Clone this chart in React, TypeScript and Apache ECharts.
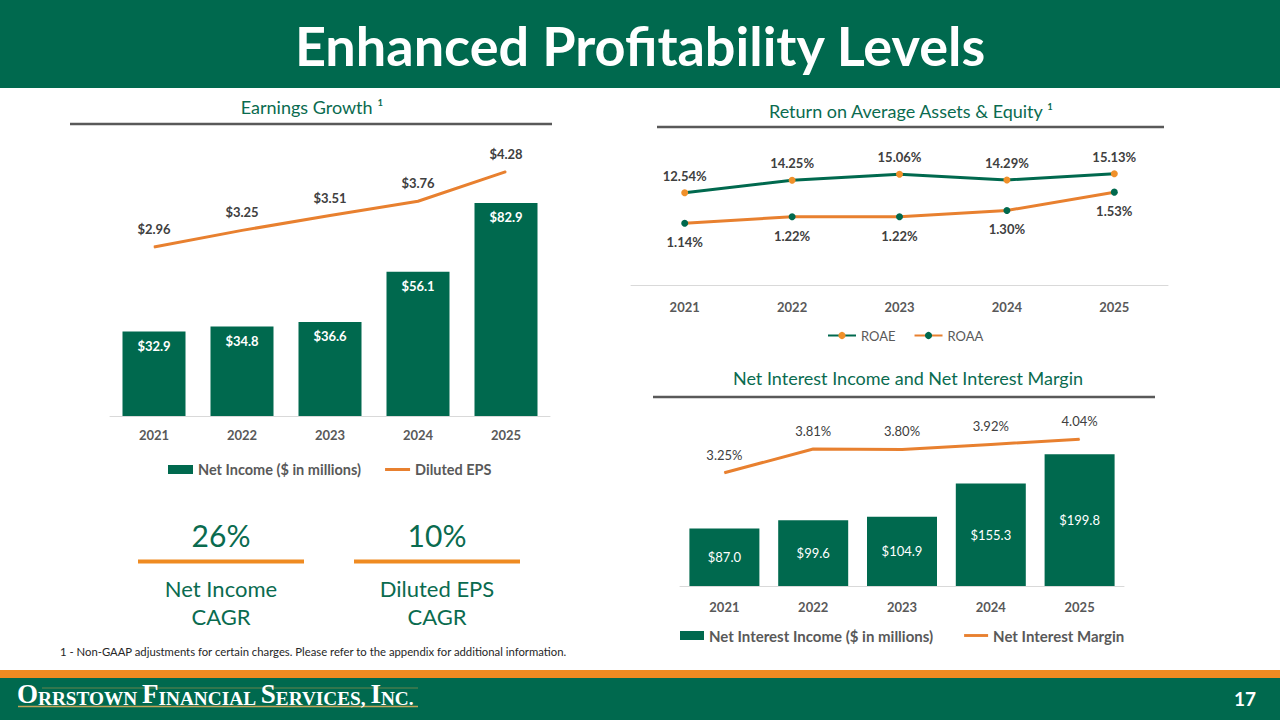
import React, { useEffect, useRef } from 'react';
import * as echarts from 'echarts';

// ---- data ----
const years = ['2021', '2022', '2023', '2024', '2025'];
const netIncome = [32.9, 34.8, 36.6, 56.1, 82.9];
const dilutedEPS = [2.96, 3.25, 3.51, 3.76, 4.28];
const roae = [12.54, 14.25, 15.06, 14.29, 15.13];
const roaa = [1.14, 1.22, 1.22, 1.3, 1.53];
const netInterestIncome = [87.0, 99.6, 104.9, 155.3, 199.8];
const netInterestMargin = [3.25, 3.81, 3.8, 3.92, 4.04];
const cagrValues = ['26%', '10%'];
const cagrLabels = [['Net Income', 'CAGR'], ['Diluted EPS', 'CAGR']];

// ---- styles ----
const GREEN = '#00694E';
const TITLE_GREEN = '#0A6B4F';
const ORANGE_LINE = '#E8802F';
const ORANGE_DOT = '#F0902A';
const ORANGE_BAND = '#EF8B22';
const GRAY = '#595959';
const DARK = '#404040';
const FONT = 'Lato, "Noto Sans", sans-serif';
const SERIF = '"Liberation Serif", "DejaVu Serif", serif';
const LINE_ICON = 'path://M0,0H25V3H0Z';

function xAxisFor(gridIndex: number, margin: number) {
  return {
    type: 'category',
    gridIndex,
    data: years,
    axisLine: { lineStyle: { color: '#D9D9D9', width: 1 } },
    axisTick: { show: false },
    axisLabel: { color: GRAY, fontWeight: 'bold', fontSize: 13, margin, fontFamily: FONT },
  };
}

function buildOption() {
  const graphic: any[] = [
    { type: 'rect', shape: { x: 0, y: 0, width: 1280, height: 88 }, style: { fill: GREEN } },
    {
      type: 'text', x: 640, y: 45,
      style: { text: 'Enhanced Profitability Levels', fill: '#fff', fontSize: 54, fontWeight: 'bold', fontFamily: FONT, align: 'center', verticalAlign: 'middle' },
    },
    // section titles
    { type: 'text', x: 312, y: 107, style: { text: 'Earnings Growth ¹', fill: TITLE_GREEN, fontSize: 18, fontFamily: FONT, align: 'center', verticalAlign: 'middle' } },
    { type: 'line', shape: { x1: 70, y1: 124, x2: 552, y2: 124 }, style: { stroke: GRAY, lineWidth: 2.5 } },
    { type: 'text', x: 911, y: 111, style: { text: 'Return on Average Assets & Equity ¹', fill: TITLE_GREEN, fontSize: 18, fontFamily: FONT, align: 'center', verticalAlign: 'middle' } },
    { type: 'line', shape: { x1: 657, y1: 127, x2: 1164, y2: 127 }, style: { stroke: GRAY, lineWidth: 2.5 } },
    { type: 'text', x: 908, y: 378, style: { text: 'Net Interest Income and Net Interest Margin', fill: TITLE_GREEN, fontSize: 18, fontFamily: FONT, align: 'center', verticalAlign: 'middle' } },
    { type: 'line', shape: { x1: 653, y1: 397, x2: 1155, y2: 397 }, style: { stroke: GRAY, lineWidth: 2.5 } },
    // footnote
    { type: 'text', x: 60, y: 651, style: { text: '1 - Non-GAAP adjustments for certain charges. Please refer to the appendix for additional information.', fill: '#262626', fontSize: 11.3, fontFamily: FONT, align: 'left', verticalAlign: 'middle' } },
    // footer
    { type: 'rect', shape: { x: 0, y: 670, width: 1280, height: 8 }, style: { fill: ORANGE_BAND } },
    { type: 'rect', shape: { x: 0, y: 678, width: 1280, height: 42 }, style: { fill: GREEN } },
    { type: 'line', shape: { x1: 42, y1: 688, x2: 418, y2: 688 }, style: { stroke: '#B99B4E', lineWidth: 1, opacity: 0.55 } },
    { type: 'line', shape: { x1: 18, y1: 706.5, x2: 418, y2: 706.5 }, style: { stroke: '#C4A55A', lineWidth: 1.5 } },
    {
      type: 'text', x: 17, y: 694,
      style: {
        text: '{b|O}{s|RRSTOWN} {b|F}{s|INANCIAL} {b|S}{s|ERVICES,} {b|I}{s|NC.}',
        fill: '#fff', fontSize: 19, fontFamily: SERIF, fontWeight: 'bold', align: 'left', verticalAlign: 'middle',
        rich: {
          b: { fontSize: 27, lineHeight: 27, fontFamily: SERIF, fontWeight: 'bold', fill: '#fff', verticalAlign: 'bottom' },
          s: { fontSize: 19.3, lineHeight: 21.8, fontFamily: SERIF, fontWeight: 'bold', fill: '#fff', verticalAlign: 'bottom' },
        },
      },
    },
    { type: 'text', x: 1245, y: 698, style: { text: '17', fill: '#fff', fontSize: 19, fontWeight: 'bold', fontFamily: FONT, align: 'center', verticalAlign: 'middle' } },
  ];

  const cagrCenters = [221, 437];
  cagrCenters.forEach((cx, i) => {
    graphic.push(
      { type: 'text', x: cx, y: 535, style: { text: cagrValues[i], fill: TITLE_GREEN, fontSize: 30, fontFamily: FONT, align: 'center', verticalAlign: 'middle' } },
      { type: 'rect', shape: { x: cx - 83, y: 559.5, width: 166, height: 4 }, style: { fill: ORANGE_BAND } },
      { type: 'text', x: cx, y: 588, style: { text: cagrLabels[i][0], fill: TITLE_GREEN, fontSize: 22, fontFamily: FONT, align: 'center', verticalAlign: 'middle' } },
      { type: 'text', x: cx, y: 616, style: { text: cagrLabels[i][1], fill: TITLE_GREEN, fontSize: 22, fontFamily: FONT, align: 'center', verticalAlign: 'middle' } },
    );
  });

  return {
    animation: false,
    textStyle: { fontFamily: FONT },
    grid: [
      { left: 110, top: 159, width: 440, height: 257 },
      { left: 631, top: 138, width: 537, height: 147 },
      { left: 680, top: 421, width: 444, height: 165 },
    ],
    xAxis: [xAxisFor(0, 12), xAxisFor(1, 15), xAxisFor(2, 14)],
    yAxis: [
      { type: 'value', gridIndex: 0, min: 0, max: 100, show: false },
      { type: 'value', gridIndex: 0, min: 0, max: 4.5, show: false },
      { type: 'value', gridIndex: 1, min: 0, max: 20, show: false },
      { type: 'value', gridIndex: 1, min: 0.364, max: 2.21, show: false },
      { type: 'value', gridIndex: 2, min: 0, max: 250, show: false },
      { type: 'value', gridIndex: 2, min: 0.565, max: 4.475, show: false },
    ],
    legend: [
      {
        left: 168, top: 462, padding: 0, itemWidth: 25, itemHeight: 9, itemGap: 24, selectedMode: false,
        textStyle: { color: GRAY, fontWeight: 'bold', fontSize: 14.5, fontFamily: FONT },
        data: [{ name: 'Net Income ($ in millions)', icon: 'rect' }, { name: 'Diluted EPS', icon: LINE_ICON }],
      },
      {
        left: 827, top: 329, padding: 0, itemWidth: 28, itemHeight: 9, itemGap: 18, selectedMode: false,
        textStyle: { color: GRAY, fontSize: 13, fontFamily: FONT },
        data: ['ROAE', 'ROAA'],
      },
      {
        left: 680, top: 628, padding: 0, itemWidth: 24, itemHeight: 9, itemGap: 31, selectedMode: false,
        textStyle: { color: GRAY, fontWeight: 'bold', fontSize: 15, fontFamily: FONT },
        data: [{ name: 'Net Interest Income ($ in millions)', icon: 'rect' }, { name: 'Net Interest Margin', icon: LINE_ICON }],
      },
    ],
    series: [
      {
        name: 'Net Income ($ in millions)', type: 'bar', xAxisIndex: 0, yAxisIndex: 0, data: netIncome, barWidth: 63,
        itemStyle: { color: GREEN },
        label: { show: true, position: 'insideTop', distance: 8, color: '#fff', fontWeight: 'bold', fontSize: 13, formatter: (p: any) => '$' + p.value.toFixed(1) },
      },
      {
        name: 'Diluted EPS', type: 'line', xAxisIndex: 0, yAxisIndex: 1, data: dilutedEPS, symbol: 'circle', symbolSize: 1,
        lineStyle: { color: ORANGE_LINE, width: 3 }, itemStyle: { color: ORANGE_LINE },
        label: { show: true, position: 'top', distance: 11, color: DARK, fontWeight: 'bold', fontSize: 13, formatter: (p: any) => '$' + p.value.toFixed(2) },
      },
      {
        name: 'ROAE', type: 'line', xAxisIndex: 1, yAxisIndex: 2, data: roae, symbol: 'circle', symbolSize: 7,
        lineStyle: { color: GREEN, width: 3 }, itemStyle: { color: ORANGE_DOT },
        label: { show: true, position: 'top', distance: 7, color: DARK, fontWeight: 'bold', fontSize: 13, formatter: (p: any) => p.value.toFixed(2) + '%' },
      },
      {
        name: 'ROAA', type: 'line', xAxisIndex: 1, yAxisIndex: 3, data: roaa, symbol: 'circle', symbolSize: 7,
        lineStyle: { color: ORANGE_LINE, width: 3 }, itemStyle: { color: GREEN },
        label: { show: true, position: 'bottom', distance: 9, color: DARK, fontWeight: 'bold', fontSize: 13, formatter: (p: any) => p.value.toFixed(2) + '%' },
      },
      {
        name: 'Net Interest Income ($ in millions)', type: 'bar', xAxisIndex: 2, yAxisIndex: 4, data: netInterestIncome, barWidth: 70,
        itemStyle: { color: GREEN },
        label: { show: true, position: 'inside', color: '#fff', fontSize: 13, formatter: (p: any) => '$' + p.value.toFixed(1) },
      },
      {
        name: 'Net Interest Margin', type: 'line', xAxisIndex: 2, yAxisIndex: 5, data: netInterestMargin, symbol: 'circle', symbolSize: 1,
        lineStyle: { color: ORANGE_LINE, width: 3 }, itemStyle: { color: ORANGE_LINE },
        label: { show: true, position: 'top', distance: 11, color: DARK, fontSize: 13, formatter: (p: any) => p.value.toFixed(2) + '%' },
      },
    ],
    graphic,
  };
}

export default function App() {
  const ref = useRef<HTMLDivElement>(null);
  useEffect(() => {
    document.body.style.margin = '0';
    const chart = echarts.init(ref.current as HTMLDivElement, null, { renderer: 'svg' });
    chart.setOption(buildOption() as any);
    return () => chart.dispose();
  }, []);
  return <div ref={ref} style={{ width: 1280, height: 720 }} />;
}
